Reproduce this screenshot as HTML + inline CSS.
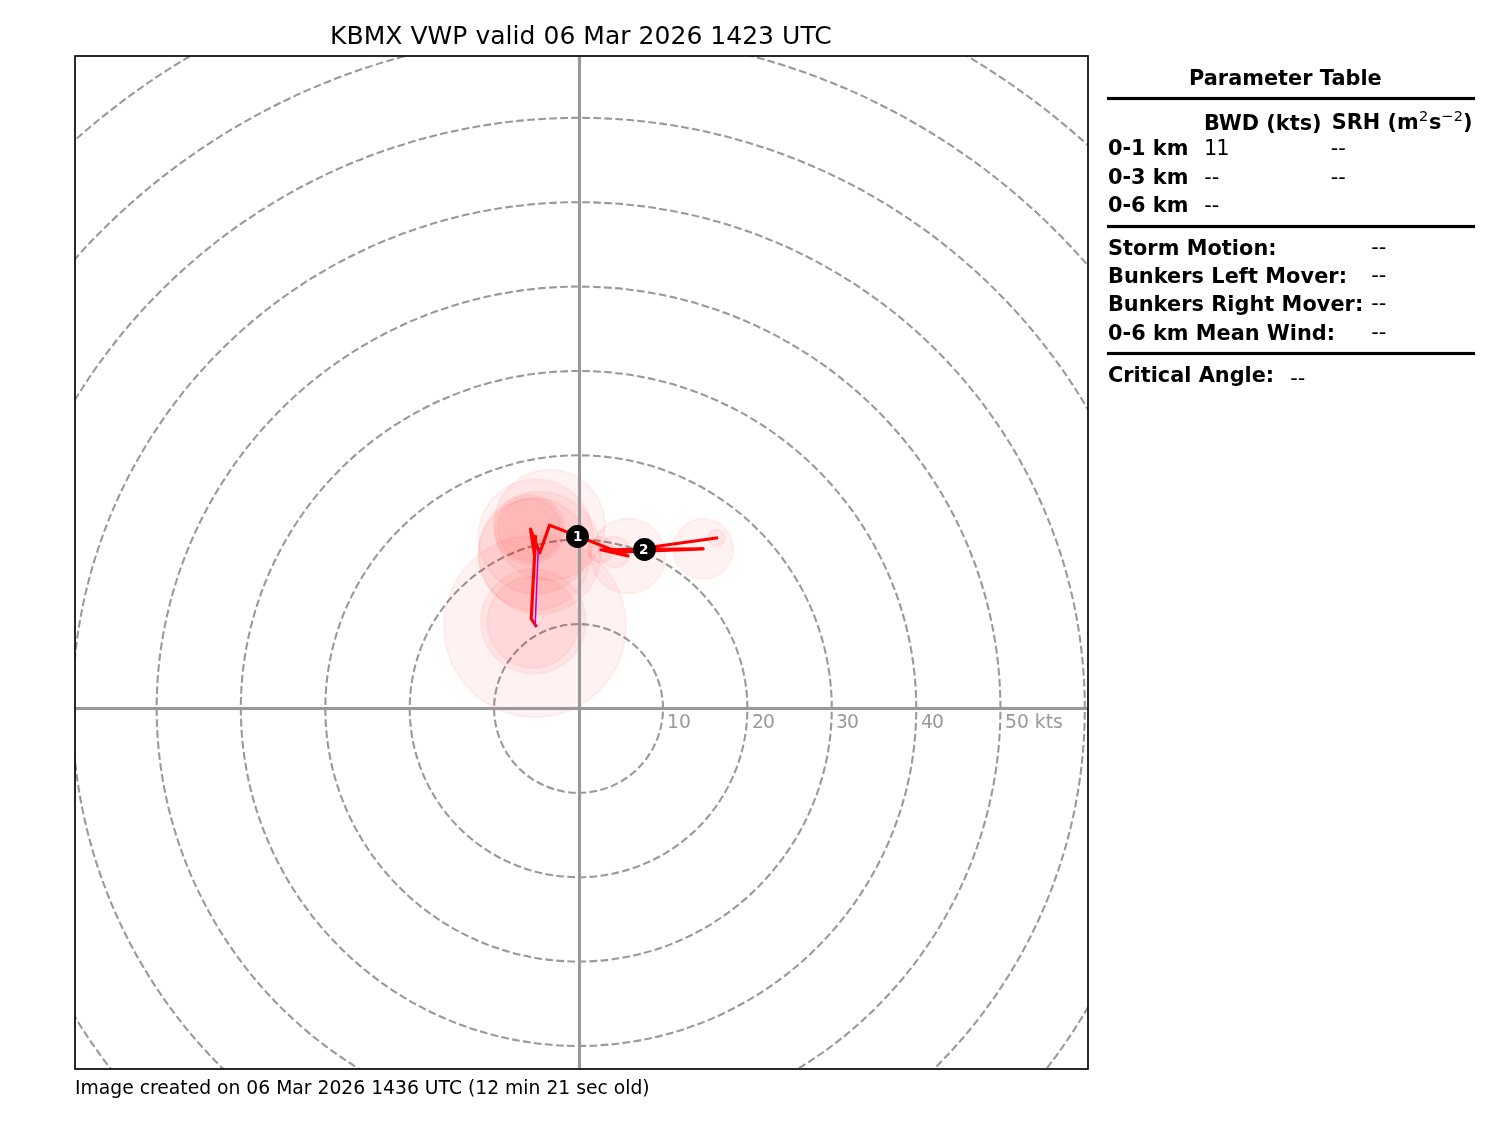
<!DOCTYPE html>
<html lang="en"><head><meta charset="utf-8"><title>KBMX VWP</title>
<style>html,body{margin:0;padding:0;background:#fff;}body{width:1500px;height:1125px;overflow:hidden;}svg{display:block;}text{font-family:"DejaVu Sans", "Liberation Sans", sans-serif;}</style>
</head><body>
<svg width="1500" height="1125" viewBox="0 0 1500 1125">
<rect width="1500" height="1125" fill="#fff"/>
<defs><clipPath id="ax"><rect x="75" y="56.25" width="1012.5" height="1012.5"/></clipPath></defs>
<g clip-path="url(#ax)">
<g fill="none" stroke="#999" stroke-width="2.083" stroke-dasharray="7.708 3.333">
<path d="M578.55 792.825 A84.375 84.375 0 1 0 578.55 624.075 A84.375 84.375 0 1 0 578.55 792.825"/>
<path d="M578.55 877.2 A168.75 168.75 0 1 0 578.55 539.7 A168.75 168.75 0 1 0 578.55 877.2"/>
<path d="M578.55 961.575 A253.125 253.125 0 1 0 578.55 455.325 A253.125 253.125 0 1 0 578.55 961.575"/>
<path d="M578.55 1045.95 A337.5 337.5 0 1 0 578.55 370.95 A337.5 337.5 0 1 0 578.55 1045.95"/>
<path d="M578.55 1130.33 A421.875 421.875 0 1 0 578.55 286.575 A421.875 421.875 0 1 0 578.55 1130.33"/>
<path d="M578.55 1214.7 A506.25 506.25 0 1 0 578.55 202.2 A506.25 506.25 0 1 0 578.55 1214.7"/>
<path d="M578.55 1299.08 A590.625 590.625 0 1 0 578.55 117.825 A590.625 590.625 0 1 0 578.55 1299.08"/>
<path d="M578.55 1383.45 A675 675 0 1 0 578.55 33.45 A675 675 0 1 0 578.55 1383.45"/>
<path d="M578.55 1467.83 A759.375 759.375 0 1 0 578.55 -50.925 A759.375 759.375 0 1 0 578.55 1467.83"/>
</g>
<g fill="#f00" fill-opacity="0.05" stroke="#f00" stroke-opacity="0.05" stroke-width="2.083">
<circle cx="535" cy="626.2" r="91"/>
<circle cx="533.4" cy="621.5" r="52.3"/>
<circle cx="533" cy="622.2" r="45.7"/>
<circle cx="535.68" cy="536.53" r="57.2"/>
<circle cx="529.5" cy="529.5" r="34.5"/>
<circle cx="529.4" cy="529.5" r="31.3"/>
<circle cx="539.77" cy="552.9" r="61"/>
<circle cx="534.36" cy="554.35" r="56"/>
<circle cx="549.51" cy="525.11" r="55.4"/>
<circle cx="628.09" cy="555.98" r="37.4"/>
<circle cx="600.86" cy="549.7" r="12.7"/>
<circle cx="703.22" cy="548.88" r="30"/>
<circle cx="614.4" cy="552" r="15.4"/>
<circle cx="716.61" cy="537.96" r="8.4"/>
</g>
<rect x="577.938" y="56.25" width="3.125" height="1012.5" fill="#999"/>
<rect x="75" y="706.938" width="1012.5" height="3.125" fill="#999"/>
<text x="667" y="728" font-size="18.75" fill="#999">10</text>
<text x="752" y="728" font-size="18.75" fill="#999" letter-spacing="-1">20</text>
<text x="836" y="728" font-size="18.75" fill="#999" letter-spacing="-1">30</text>
<text x="921" y="728" font-size="18.75" fill="#999" letter-spacing="-1">40</text>
<text x="1005" y="728" font-size="18.75" fill="#999">50 kts</text>
<path d="M535.8 625.7 L531.2 618.7 L535.68 536.53 L534.36 554.35 L530.51 529.15 L539.77 552.9 L549.51 525.11 L628.09 555.98 L600.86 549.7 L703.22 548.88 L614.61 552.25 L716.61 537.96" fill="none" stroke="#f00" stroke-width="3.125" stroke-linejoin="round" stroke-linecap="square"/>
<circle cx="577.5" cy="536.5" r="11.46" fill="#000"/>
<circle cx="644.5" cy="549.5" r="11.46" fill="#000"/>
<path d="M538.27 548.9 L535.13 625.7" fill="none" stroke="#bf00bf" stroke-width="1.5625" stroke-linecap="square"/>
<text x="577.82" y="541.35" font-size="13.54" font-weight="bold" fill="#fff" text-anchor="middle">1</text>
<text x="643.75" y="554.35" font-size="13.54" font-weight="bold" fill="#fff" text-anchor="middle">2</text>
</g>
<rect x="75" y="56" width="1013" height="1013" fill="none" stroke="#000" stroke-width="1.667"/>
<text x="330" y="44" font-size="25" fill="#000" textLength="501.69">KBMX VWP valid 06 Mar 2026 1423 UTC</text>
<text x="75" y="1094" font-size="18.75" fill="#000" textLength="574.69">Image created on 06 Mar 2026 1436 UTC (12 min 21 sec old)</text>
<text font-size="20.83" font-weight="bold" fill="#000"><tspan x="1331.8" y="129">SRH (m</tspan><tspan x="1419.1" y="121" font-size="14.58" font-weight="normal">2</tspan><tspan x="1429" y="129">s</tspan><tspan x="1440.9" y="121" font-size="14.58" font-weight="normal">−</tspan><tspan x="1453.7" y="121" font-size="14.58" font-weight="normal">2</tspan><tspan x="1463" y="129">)</tspan></text>
<text x="1189" y="85" font-size="20.83" font-weight="bold" letter-spacing="0.0335714" fill="#000">Parameter Table</text>
<text x="1203.94" y="130" font-size="20.83" font-weight="bold" letter-spacing="0.025" fill="#000">BWD (kts)</text>
<text x="1107.99" y="155" font-size="20.83" font-weight="bold" fill="#000">0-1 km</text>
<text x="1203.94" y="155" font-size="20.83" letter-spacing="-0.9" fill="#000">11</text>
<text x="1330.8" y="155" font-size="20.83" fill="#000">--</text>
<text x="1107.99" y="184" font-size="20.83" font-weight="bold" fill="#000">0-3 km</text>
<text x="1204.24" y="184" font-size="20.83" fill="#000">--</text>
<text x="1330.8" y="184" font-size="20.83" fill="#000">--</text>
<text x="1107.99" y="212" font-size="20.83" font-weight="bold" fill="#000">0-6 km</text>
<text x="1204.24" y="212" font-size="20.83" fill="#000">--</text>
<text x="1107.95" y="255" font-size="20.83" font-weight="bold" letter-spacing="0.0466667" fill="#000">Storm Motion:</text>
<text x="1371.3" y="254" font-size="20.83" fill="#000">--</text>
<text x="1107.95" y="283" font-size="20.83" font-weight="bold" letter-spacing="0.065" fill="#000">Bunkers Left Mover:</text>
<text x="1371.3" y="282" font-size="20.83" fill="#000">--</text>
<text x="1107.95" y="311" font-size="20.83" font-weight="bold" letter-spacing="0.0494737" fill="#000">Bunkers Right Mover:</text>
<text x="1371.3" y="310" font-size="20.83" fill="#000">--</text>
<text x="1107.99" y="340" font-size="20.83" font-weight="bold" letter-spacing="0.01625" fill="#000">0-6 km Mean Wind:</text>
<text x="1371.3" y="339" font-size="20.83" fill="#000">--</text>
<text x="1107.95" y="382" font-size="20.83" font-weight="bold" letter-spacing="0.0142857" fill="#000">Critical Angle:</text>
<text x="1290.3" y="385" font-size="20.83" fill="#000">--</text>
<rect x="1106.94" y="96.9375" width="368.12" height="3.125" fill="#000"/>
<rect x="1106.94" y="224.938" width="368.12" height="3.125" fill="#000"/>
<rect x="1106.94" y="351.938" width="368.12" height="3.125" fill="#000"/>
</svg></body></html>
